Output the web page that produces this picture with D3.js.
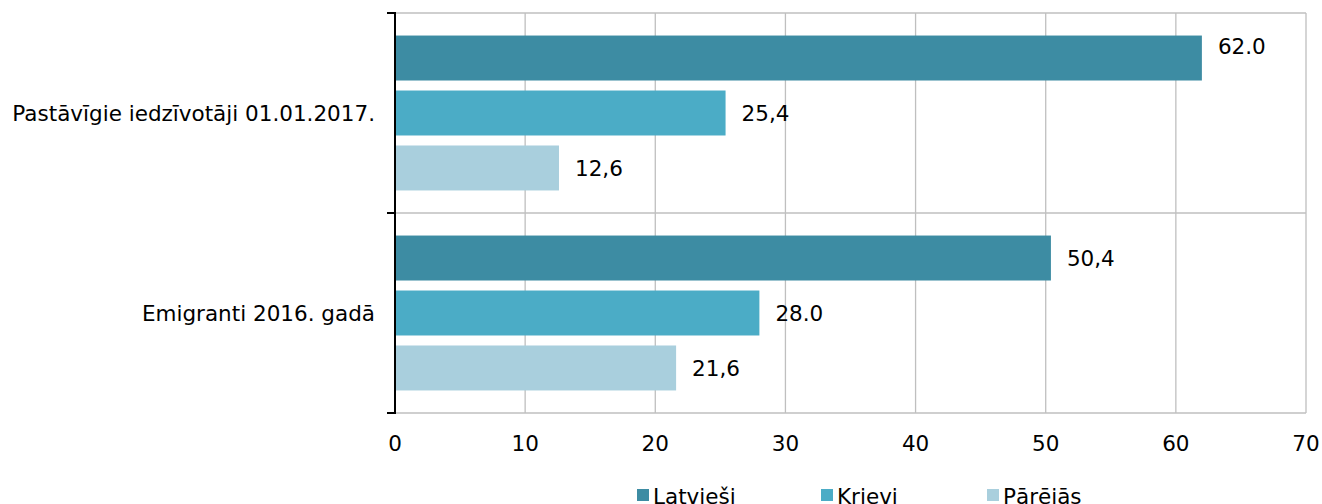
<!DOCTYPE html>
<html>
<head>
<meta charset="utf-8">
<script src="https://cdn.jsdelivr.net/npm/d3@7"></script>
<style>
    body { margin: 0; padding: 0; background: #fff; }
    svg { display: block; font-family: "DejaVu Sans", Verdana, sans-serif; }
</style>
</head>
<body>
<svg id="chart" width="1322" height="504"></svg>
<script>
    // data
    var categories = ["Pastāvīgie iedzīvotāji 01.01.2017.", "Emigranti 2016. gadā"];
    var seriesNames = ["Latvieši", "Krievi", "Pārējās"];
    var seriesColors = ["#3d8ca3", "#4bacc6", "#a9cfdd"];
    var latviesi = [62.0, 50.4];
    var krievi = [25.4, 28.0];
    var parejas = [12.6, 21.6];
    var valueLabels = [["62.0", "50,4"], ["25,4", "28.0"], ["12,6", "21,6"]];
    var xTicks = [0, 10, 20, 30, 40, 50, 60, 70];

    var series = [latviesi, krievi, parejas];

    var svg = d3.select("#chart");
    var plotLeft = 395, plotRight = 1306, plotTop = 13, plotBottom = 413;
    var fs = 21.5;

    var x = d3.scaleLinear().domain([0, 70]).range([plotLeft, plotRight]);
    var y0 = d3.scaleBand().domain(categories).range([plotTop, plotBottom]).paddingInner(0).paddingOuter(0);
    var y1 = d3.scaleBand().domain(seriesNames).range([0, y0.bandwidth()]).paddingInner(0.182).paddingOuter(0.41);

    // grid
    svg.append("g").selectAll("line")
        .data(xTicks.slice(1))
        .enter().append("line")
        .attr("x1", function (d) { return x(d); })
        .attr("x2", function (d) { return x(d); })
        .attr("y1", plotTop).attr("y2", plotBottom)
        .attr("stroke", "#bfbfbf").attr("stroke-width", 1.3);

    svg.append("g").selectAll("line")
        .data([plotTop, y0(categories[1]), plotBottom])
        .enter().append("line")
        .attr("x1", plotLeft).attr("x2", plotRight)
        .attr("y1", function (d) { return d; })
        .attr("y2", function (d) { return d; })
        .attr("stroke", "#bfbfbf").attr("stroke-width", 1.3);

    // bars
    var groups = svg.append("g").selectAll("g")
        .data(categories)
        .enter().append("g")
        .attr("transform", function (d) { return "translate(0," + y0(d) + ")"; });

    groups.each(function (cat, ci) {
        var g = d3.select(this);
        seriesNames.forEach(function (s, si) {
            var v = series[si][ci];
            // the 62.0 label sits a bit higher in the original
            var nudge = (si === 0 && ci === 0) ? -12 : 0;
            g.append("rect")
                .attr("x", x(0))
                .attr("y", y1(s))
                .attr("width", x(v) - x(0))
                .attr("height", y1.bandwidth())
                .attr("fill", seriesColors[si]);
            g.append("text")
                .attr("x", x(v) + 16)
                .attr("y", y1(s) + y1.bandwidth() / 2 + nudge)
                .attr("dy", "0.35em")
                .attr("font-size", fs)
                .attr("fill", "#000")
                .text(valueLabels[si][ci]);
        });
    });

    // left axis
    var yAxis = svg.append("g");
    yAxis.append("line")
        .attr("x1", plotLeft).attr("x2", plotLeft)
        .attr("y1", plotTop).attr("y2", plotBottom)
        .attr("stroke", "#000").attr("stroke-width", 2);
    yAxis.selectAll(".tk")
        .data([plotTop, y0(categories[1]), plotBottom])
        .enter().append("line")
        .attr("class", "tk")
        .attr("x1", plotLeft - 8).attr("x2", plotLeft + 1)
        .attr("y1", function (d) { return d; })
        .attr("y2", function (d) { return d; })
        .attr("stroke", "#000").attr("stroke-width", 2);
    yAxis.selectAll("text")
        .data(categories)
        .enter().append("text")
        .attr("x", plotLeft - 20)
        .attr("y", function (d) { return y0(d) + y0.bandwidth() / 2; })
        .attr("dy", "0.35em")
        .attr("text-anchor", "end")
        .attr("font-size", fs)
        .text(function (d) { return d; });

    // x tick labels
    svg.append("g").selectAll("text")
        .data(xTicks)
        .enter().append("text")
        .attr("x", function (d) { return x(d); })
        .attr("y", 443)
        .attr("dy", "0.35em")
        .attr("text-anchor", "middle")
        .attr("font-size", fs)
        .text(function (d) { return d; });

    // legend
    var legendX = [637, 821, 987];
    var legend = svg.append("g").selectAll("g")
        .data(seriesNames)
        .enter().append("g")
        .attr("transform", function (d, i) { return "translate(" + legendX[i] + ",489)"; });
    legend.append("rect")
        .attr("width", 12).attr("height", 12)
        .attr("fill", function (d, i) { return seriesColors[i]; });
    legend.append("text")
        .attr("x", 16).attr("y", 7)
        .attr("dy", "0.35em")
        .attr("font-size", fs)
        .text(function (d) { return d; });
</script>
</body>
</html>
